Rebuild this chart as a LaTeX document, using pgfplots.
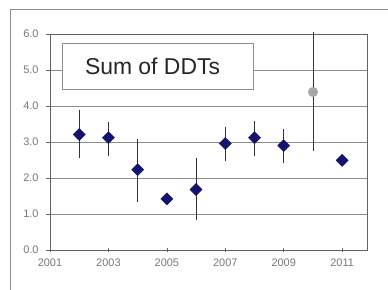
\documentclass[border=0pt]{standalone}
\usepackage{fontspec}
\setmainfont{Liberation Sans}
\usepackage{pgfplots}
\usepackage{pgfplotstable}
\pgfplotsset{compat=1.18}
\definecolor{navy}{RGB}{20,20,110}
\definecolor{grid}{RGB}{140,140,140}
\definecolor{lbl}{RGB}{120,120,120}
\pgfplotstableread{
x y ep em
2002 3.21 0.62 0.61
2003 3.12 0.38 0.44
2004 2.23 0.79 0.83
2005 1.42 0.08 0.08
2006 1.68 0.82 0.78
2007 2.96 0.39 0.43
2008 3.12 0.40 0.44
2009 2.90 0.40 0.44
2011 2.49 0.08 0.08
}\ddtmain
\pgfplotstableread{
x y ep em
2010 4.39 1.61 1.59
}\ddtgrey
\begin{document}
\begin{tikzpicture}[x=1bp,y=1bp]
\useasboundingbox (0,0) rectangle (388,290);
\draw[color=grid, line width=1bp] (10,0) -- (10,280) -- (388,280);
\begin{axis}[
  at={(50bp,40bp)}, anchor=south west,
  scale only axis, width=317bp, height=216bp,
  xmin=2001, xmax=2011.85, ymin=0, ymax=6,
  xtick={2001,2003,2005,2007,2009,2011},
  ytick={0,1,2,3,4,5,6},
  ymajorgrids, grid style={color=grid, line width=0.8bp},
  axis line style={color=grid!70!black, line width=0.8bp},
  tick style={color=grid!70!black, line width=0.7bp},
  major tick length=4bp,
  xtick align=center, ytick align=outside,
  xtick pos=bottom, ytick pos=left,
  tick label style={font=\fontsize{11}{13}\selectfont, color=lbl},
  xticklabel style={yshift=-3bp},
  yticklabel style={xshift=-4bp},
  x tick label style={/pgf/number format/1000 sep=},
  y tick label style={/pgf/number format/.cd, fixed, fixed zerofill, precision=1},
  /pgf/number format/assume math mode=true,
  clip=false,
]
\addplot[only marks, mark=square*, mark size=4.3bp, mark options={rotate=45, fill=navy, draw=navy},
  error bars/.cd, y dir=both, y explicit, error mark=-,
  error mark options={mark size=2bp, line width=0.7bp, black!80},
  error bar style={line width=0.8bp, black!80}]
  table[x=x, y=y, y error plus=ep, y error minus=em] {\ddtmain};
\addplot[only marks, mark=*, mark size=4.8bp, mark options={fill=gray!70, draw=gray!70},
  error bars/.cd, y dir=both, y explicit, error mark=-,
  error mark options={mark size=2bp, line width=0.7bp, black!80},
  error bar style={line width=0.8bp, black!80}]
  table[x=x, y=y, y error plus=ep, y error minus=em] {\ddtgrey};
\node[draw=grid, line width=0.8bp, fill=white, minimum width=191bp, minimum height=46bp, inner sep=0pt,
  font=\fontsize{23}{26}\selectfont, text=black!85] at (axis cs:2004.68,5.11) {\hspace*{-10bp}Sum of DDTs};
\end{axis}
\end{tikzpicture}
\end{document}
